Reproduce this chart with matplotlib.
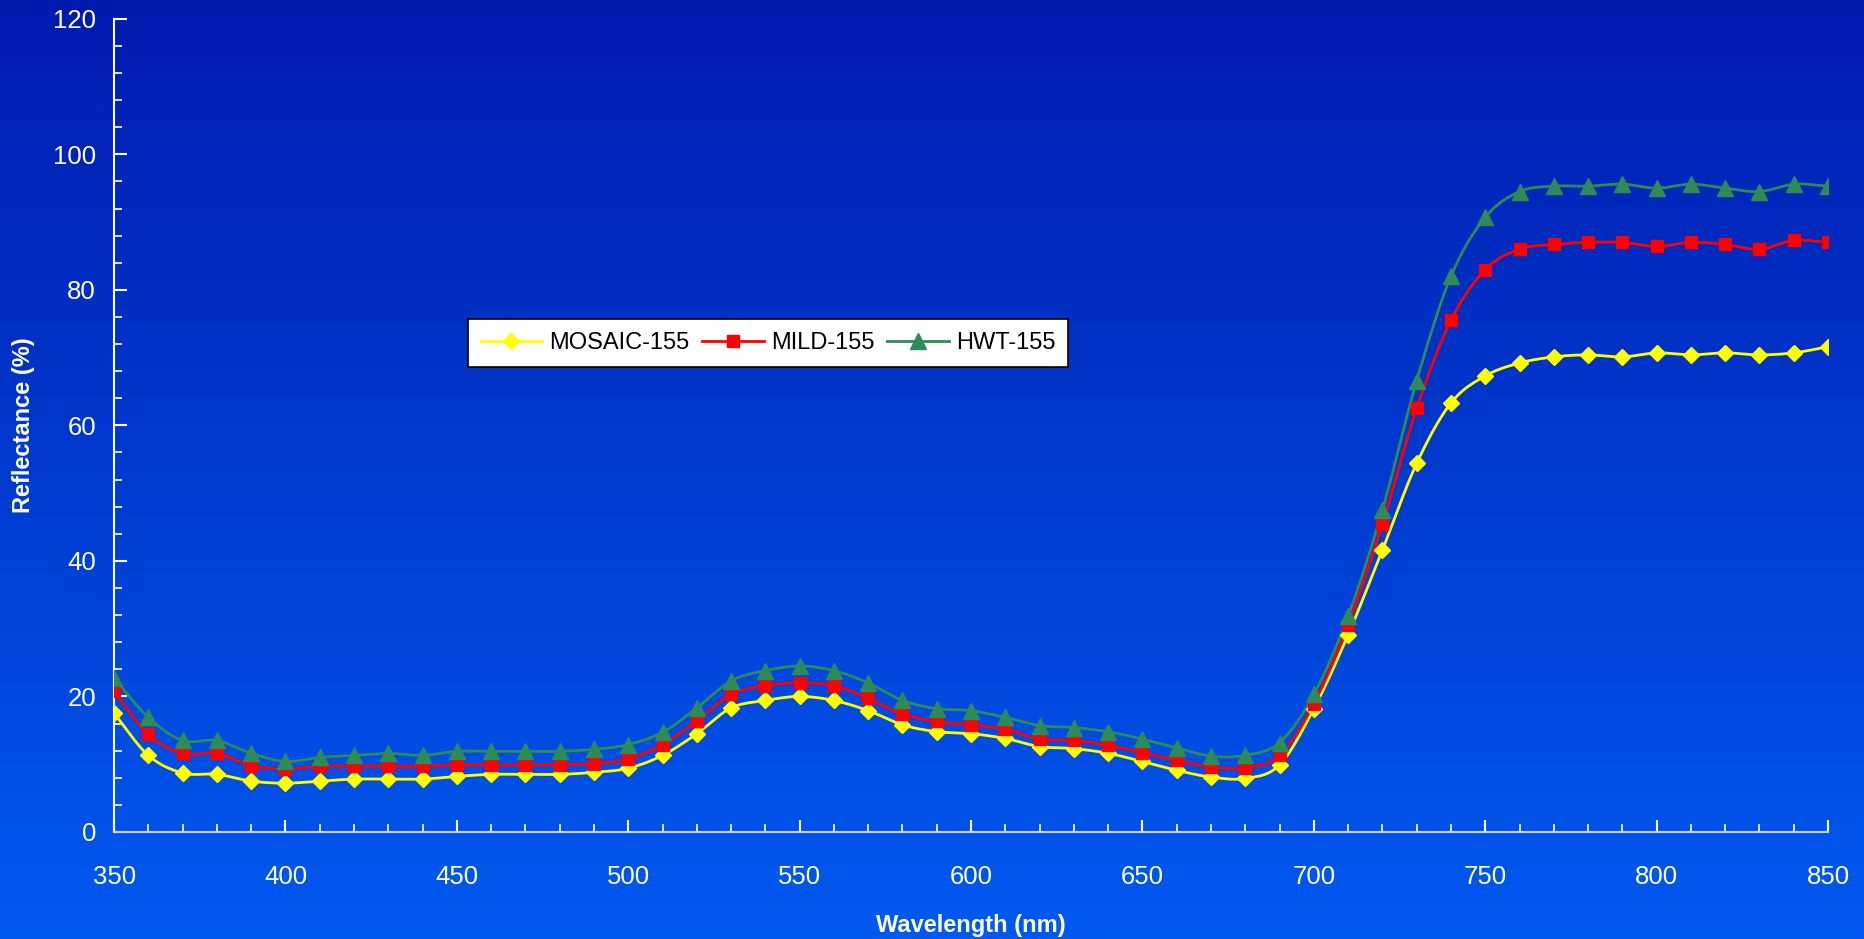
import numpy as np
import matplotlib
matplotlib.use("Agg")
import matplotlib.pyplot as plt
from matplotlib.ticker import MultipleLocator

wavelength = list(range(350, 851, 10))

mosaic = [17.5, 11.3, 8.7, 8.5, 7.5, 7.2, 7.5, 7.8, 7.8, 7.8, 8.2, 8.5, 8.5, 8.5, 8.8, 9.4,
          11.3, 14.5, 18.3, 19.4, 20.0, 19.4, 17.9, 15.8, 14.8, 14.5, 13.8, 12.6, 12.3, 11.6,
          10.4, 9.1, 8.1, 7.9, 9.9, 18.2, 29.1, 41.6, 54.4, 63.3, 67.3, 69.2, 70.1, 70.4, 70.1,
          70.7, 70.4, 70.7, 70.4, 70.7, 71.6]
mild = [20.8, 14.4, 11.6, 11.6, 9.8, 9.3, 9.7, 9.7, 9.7, 9.7, 9.9, 9.9, 9.9, 9.9, 10.1, 10.8,
        12.9, 16.4, 20.3, 21.6, 22.0, 21.6, 19.7, 17.4, 16.3, 15.8, 15.2, 13.7, 13.5, 12.8,
        11.7, 10.6, 9.6, 9.5, 11.3, 18.9, 30.6, 45.4, 62.5, 75.5, 83.0, 86.0, 86.7, 87.0, 87.0,
        86.4, 87.0, 86.7, 86.0, 87.3, 87.0]
hwt = [22.7, 16.9, 13.5, 13.5, 11.6, 10.4, 11.0, 11.3, 11.6, 11.3, 11.9, 11.9, 11.9, 11.9, 12.2,
       12.9, 14.7, 18.3, 22.3, 23.8, 24.5, 23.8, 22.0, 19.4, 18.2, 17.9, 16.9, 15.7, 15.4, 14.8,
       13.7, 12.4, 11.2, 11.3, 13.2, 20.3, 31.9, 47.5, 66.6, 82.0, 90.7, 94.5, 95.3, 95.3, 95.6,
       95.0, 95.6, 95.0, 94.5, 95.6, 95.3]

series_names = ["MOSAIC-155", "MILD-155", "HWT-155"]
colors = ["#FFFF00", "#FF0000", "#2E8B57"]
markers = ["D", "s", "^"]
msizes = [8, 9, 11]

plt.rcParams['font.family'] = ['Liberation Sans', 'DejaVu Sans']


def smooth(x, y, n=12):
    # Catmull-Rom spline through the data points (Excel-like smoothed line)
    x = np.asarray(x, float)
    y = np.asarray(y, float)
    px = np.concatenate([[2 * x[0] - x[1]], x, [2 * x[-1] - x[-2]]])
    py = np.concatenate([[2 * y[0] - y[1]], y, [2 * y[-1] - y[-2]]])
    xs, ys = [], []
    t = np.linspace(0, 1, n, endpoint=False)
    for i in range(1, len(px) - 2):
        p0, p1, p2, p3 = py[i - 1], py[i], py[i + 1], py[i + 2]
        q0, q1, q2, q3 = px[i - 1], px[i], px[i + 1], px[i + 2]
        for arr, a0, a1, a2, a3 in ((ys, p0, p1, p2, p3), (xs, q0, q1, q2, q3)):
            arr.extend(0.5 * ((2 * a1) + (-a0 + a2) * t + (2 * a0 - 5 * a1 + 4 * a2 - a3) * t ** 2
                              + (-a0 + 3 * a1 - 3 * a2 + a3) * t ** 3))
    xs.append(x[-1])
    ys.append(y[-1])
    return np.array(xs), np.array(ys)


fig = plt.figure(figsize=(18.64, 9.39), dpi=100)

# background gradient
bg = fig.add_axes([0, 0, 1, 1], zorder=-10)
grad = np.linspace(0, 1, 256).reshape(-1, 1)
top = np.array([0x00, 0x1A, 0xAE]) / 255
bot = np.array([0x00, 0x5A, 0xF0]) / 255
img = top + (bot - top) * grad[:, :, None] * np.ones((1, 1, 3))
bg.imshow(img.reshape(256, 1, 3), aspect='auto', extent=[0, 1, 0, 1])
bg.axis('off')

ax = fig.add_axes([0.0612, 0.114, 0.9195, 0.866])
ax.patch.set_alpha(0)

handles = []
for name, vals, c, m, ms in zip(series_names, [mosaic, mild, hwt], colors, markers, msizes):
    sx, sy = smooth(wavelength, vals)
    ax.plot(sx, sy, color=c, lw=2, zorder=3)
    ax.plot(wavelength, vals, linestyle='none', marker=m, color=c, markersize=ms, zorder=4)
    h, = ax.plot([], [], color=c, lw=2, marker=m, markersize=ms, label=name)
    handles.append(h)

ax.set_xlim(350, 850)
ax.set_ylim(0, 120)
ax.xaxis.set_major_locator(MultipleLocator(50))
ax.xaxis.set_minor_locator(MultipleLocator(10))
ax.yaxis.set_major_locator(MultipleLocator(20))
ax.yaxis.set_minor_locator(MultipleLocator(4))

for s in ['top', 'right']:
    ax.spines[s].set_visible(False)
ax.spines['left'].set_color('white')
ax.spines['bottom'].set_color('#C8D8F8')
ax.spines['left'].set_linewidth(1.5)
ax.spines['bottom'].set_linewidth(1.5)

ax.tick_params(axis='both', which='major', direction='in', length=9, width=1.5,
               colors='white', labelsize=18.5)
ax.tick_params(axis='both', which='minor', direction='in', length=6, width=1.2, colors='white')
ax.tick_params(axis='x', which='major', pad=24)
ax.tick_params(axis='y', which='major', pad=13)

ax.set_xlabel("Wavelength (nm)", color='white', fontsize=17, fontweight='bold', labelpad=18)
ax.set_ylabel("Reflectance (%)", color='white', fontsize=17, fontweight='bold', labelpad=13)

leg = ax.legend(handles=handles, ncol=3, loc='upper left', bbox_to_anchor=(0.2063, 0.631),
                frameon=True, fancybox=False, fontsize=17, handlelength=2.6,
                columnspacing=0.55, handletextpad=0.3, borderpad=0.55, borderaxespad=0)
leg.get_frame().set_facecolor('white')
leg.get_frame().set_edgecolor('black')
leg.get_frame().set_linewidth(1.2)
leg.get_frame().set_alpha(1)

fig.savefig("out.png", dpi=100)
